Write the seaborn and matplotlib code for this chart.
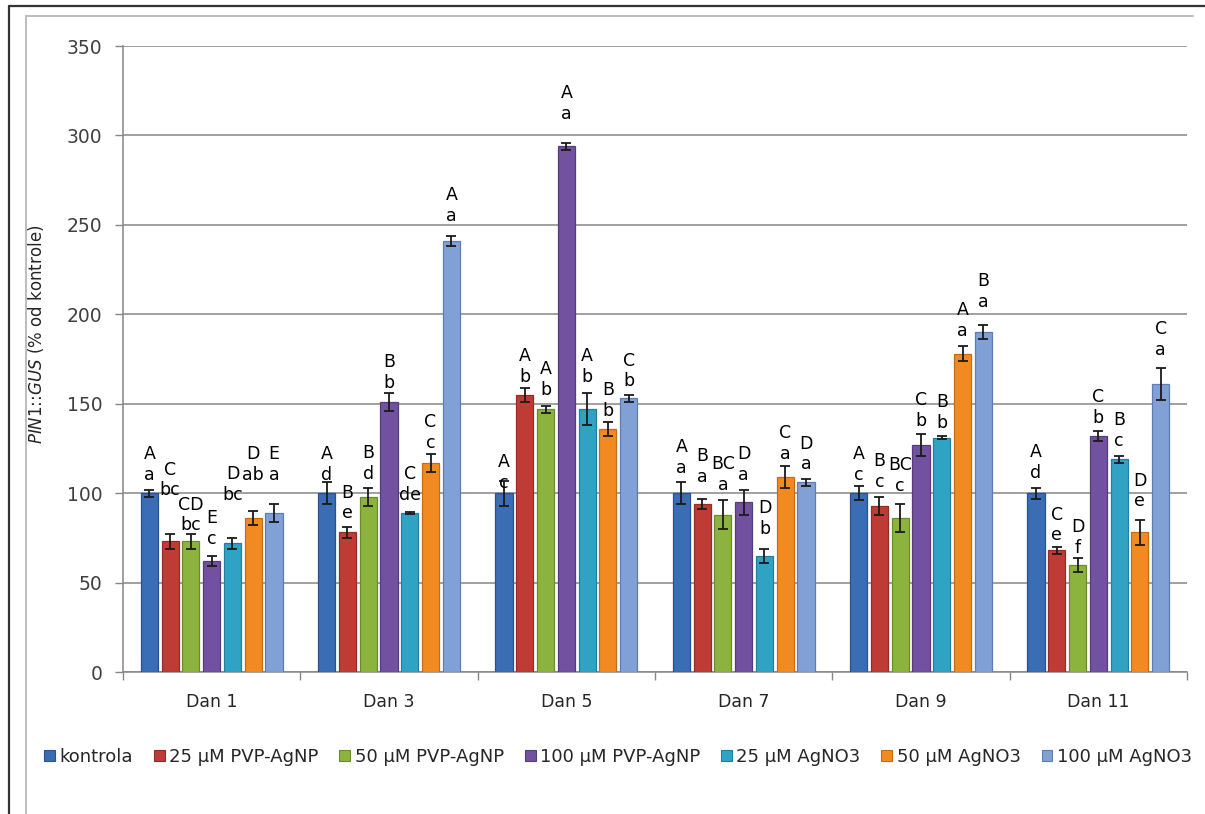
import numpy as np
import pandas as pd
import matplotlib
matplotlib.use("Agg")
import matplotlib.pyplot as plt
import seaborn as sns
from matplotlib.lines import Line2D
from matplotlib.patches import Patch

# categories
days = ["Dan 1", "Dan 3", "Dan 5", "Dan 7", "Dan 9", "Dan 11"]
treatments = ["kontrola", "25 µM PVP-AgNP", "50 µM PVP-AgNP", "100 µM PVP-AgNP",
              "25 µM AgNO3", "50 µM AgNO3", "100 µM AgNO3"]

# PIN1::GUS (% od kontrole)
kontrola = [100, 100, 100, 100, 100, 100]
pvp25 = [73, 78, 155, 94, 93, 68]
pvp50 = [73, 98, 147, 88, 86, 60]
pvp100 = [62, 151, 294, 95, 127, 132]
ag25 = [72, 89, 147, 65, 131, 119]
ag50 = [86, 117, 136, 109, 178, 78]
ag100 = [89, 241, 153, 106, 190, 161]

# error bars
kontrola_err = [2, 6, 7, 6, 4, 3]
pvp25_err = [4, 3, 4, 3, 5, 2]
pvp50_err = [4, 5, 2, 8, 8, 4]
pvp100_err = [3, 5, 2, 7, 6, 3]
ag25_err = [3, 0.5, 9, 4, 1, 2]
ag50_err = [4, 5, 4, 6, 4, 7]
ag100_err = [5, 3, 2, 2, 4, 9]

# significance letters (upper line / lower line)
kontrola_up = ["A", "A", "A", "A", "A", "A"]
kontrola_lo = ["a", "d", "c", "a", "c", "d"]
pvp25_up = ["C", "B", "A", "B", "B", "C"]
pvp25_lo = ["bc", "e", "b", "a", "c", "e"]
pvp50_up = ["CD", "B", "A", "BC", "BC", "D"]
pvp50_lo = ["bc", "d", "b", "a", "c", "f"]
pvp100_up = ["E", "B", "A", "D", "C", "C"]
pvp100_lo = ["c", "b", "a", "a", "b", "b"]
ag25_up = ["D", "C", "A", "D", "B", "B"]
ag25_lo = ["bc", "de", "b", "b", "b", "c"]
ag50_up = ["D", "C", "B", "C", "A", "D"]
ag50_lo = ["ab", "c", "b", "a", "a", "e"]
ag100_up = ["E", "A", "C", "D", "B", "C"]
ag100_lo = ["a", "a", "b", "a", "a", "a"]

values = [kontrola, pvp25, pvp50, pvp100, ag25, ag50, ag100]
errors = [kontrola_err, pvp25_err, pvp50_err, pvp100_err, ag25_err, ag50_err, ag100_err]
upper = [kontrola_up, pvp25_up, pvp50_up, pvp100_up, ag25_up, ag50_up, ag100_up]
lower = [kontrola_lo, pvp25_lo, pvp50_lo, pvp100_lo, ag25_lo, ag50_lo, ag100_lo]

rows = []
for t, vals in zip(treatments, values):
    for d, v in zip(days, vals):
        rows.append({"dan": d, "tretman": t, "vrijednost": v})
df = pd.DataFrame(rows)

colors = ["#3A6DB3", "#BF3B35", "#8DB33F", "#7151A0", "#30A3C4", "#F28A22", "#80A0D6"]
edges = ["#2A5290", "#962C28", "#6C8B2E", "#553C7C", "#22809A", "#C46C16", "#5F7DB2"]

# label lift above bar top in pixels (hand placed labels in the original)
label_lift = [
    [13, 46, 11, 17, 43, 38, 33],
    [13, 14, 18, 14, 13, 15, 20],
    [5, 13, 14, 27, 27, 13, 12],
    [20, 22, 25, 22, 22, 18, 13],
    [13, 19, 27, 19, 10, 18, 25],
    [15, 10, 12, 13, 13, 26, 29],
]

sns.set_theme(style="white")
plt.rcParams["font.family"] = ["DejaVu Sans"]

fig = plt.figure(figsize=(12.05, 8.14), dpi=100)
ax = fig.add_axes([123 / 1205, 142 / 814, 1064 / 1205, 626 / 814])

sns.barplot(data=df, x="dan", y="vrijednost", hue="tretman", order=days,
            hue_order=treatments, palette=colors, saturation=1, width=0.82, gap=0.18,
            errorbar=None, legend=False, ax=ax, zorder=3)

gray = "#868686"
bar_containers = list(ax.containers)
for i, cont in enumerate(bar_containers):
    xs, hs = [], []
    for bar in cont.patches:
        bar.set_edgecolor(edges[i])
        bar.set_linewidth(0.9)
        xs.append(bar.get_x() + bar.get_width() / 2)
        hs.append(bar.get_height())
    ax.errorbar(xs, hs, yerr=errors[i], fmt="none", ecolor="#1a1a1a",
                elinewidth=1.3, capsize=3.5, capthick=1.3, zorder=4)
    for j in range(len(days)):
        ax.annotate(upper[i][j] + "\n" + lower[i][j], xy=(xs[j], hs[j]),
                    xytext=(0, (label_lift[j][i] - 4) * 0.72), textcoords="offset points",
                    ha="center", va="bottom", fontsize=12.5, linespacing=1.2,
                    color="black", zorder=5)

ax.set_xlim(-0.5, len(days) - 0.5)
ax.set_ylim(0, 350)
ax.set_yticks(np.arange(0, 351, 50))
ax.yaxis.grid(True, color=gray, linewidth=1.1)
ax.set_axisbelow(True)
ax.set_xlabel("")
ax.set_ylabel(r"$\it{PIN1}$::$\it{GUS}$ (% od kontrole)", fontsize=12, color="#262626")
ax.yaxis.set_label_coords(-0.072, 0.54)

for s in ["top", "right"]:
    ax.spines[s].set_visible(False)
for s in ["left", "bottom"]:
    ax.spines[s].set_color(gray)
    ax.spines[s].set_linewidth(1.1)

ax.tick_params(axis="y", which="major", direction="out", length=6, width=1, color=gray,
               labelsize=13.5, labelcolor="#404040", left=True, pad=9)
ax.tick_params(axis="x", which="major", length=0, labelsize=12.5, labelcolor="#262626", pad=15)
ax.set_xticks(np.arange(-0.5, len(days), 1), minor=True)
ax.tick_params(axis="x", which="minor", direction="out", length=6, width=1, color=gray, bottom=True)

handles = [Patch(facecolor=c, edgecolor=e, linewidth=0.8) for c, e in zip(colors, edges)]
fig.legend(handles, treatments, loc="center", bbox_to_anchor=(0.513, 0.07), ncol=7,
           frameon=False, fontsize=13, handlelength=0.6, handleheight=0.6,
           handletextpad=0.25, columnspacing=1.15, borderaxespad=0)

# outer chart frames
fig.add_artist(Line2D([9 / 1205, 9 / 1205], [0, 808 / 814], color="#333333", linewidth=1.6))
fig.add_artist(Line2D([9 / 1205, 1], [808 / 814, 808 / 814], color="#333333", linewidth=1.6))
fig.add_artist(Line2D([26 / 1205, 26 / 1205], [0, 798 / 814], color="#bdbdbd", linewidth=1.4))
fig.add_artist(Line2D([26 / 1205, 1193 / 1205], [798 / 814, 798 / 814], color="#bdbdbd", linewidth=1.4))

fig.savefig("out.png", dpi=100)
